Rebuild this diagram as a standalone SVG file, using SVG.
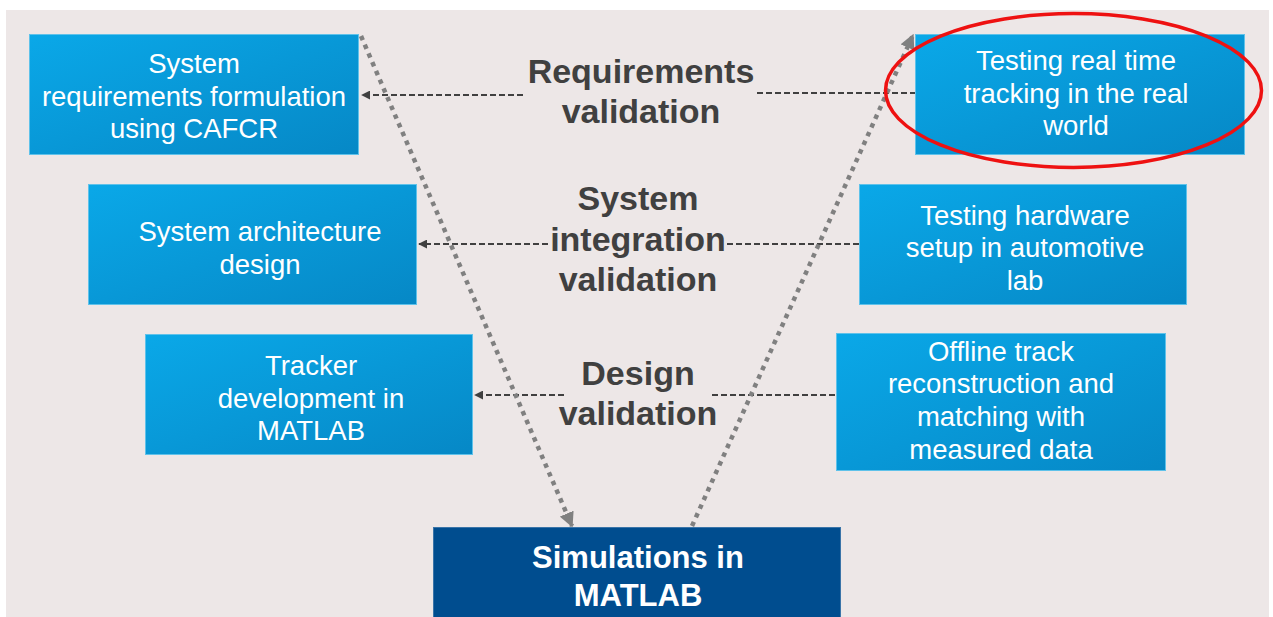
<svg xmlns="http://www.w3.org/2000/svg" width="1273" height="617" viewBox="0 0 1273 617">
<defs>
<linearGradient id="boxg" x1="0" y1="0" x2="1" y2="1">
<stop offset="0" stop-color="#0aa8e8"/>
<stop offset="1" stop-color="#0688c6"/>
</linearGradient>
<marker id="ah" viewBox="0 0 10 10" refX="9" refY="5" markerWidth="9" markerHeight="9" markerUnits="userSpaceOnUse" orient="auto">
<path d="M0,0 L10,5 L0,10 z" fill="#404040"/>
</marker>
<marker id="dh" viewBox="0 0 10 10" refX="9" refY="5" markerWidth="15" markerHeight="15" markerUnits="userSpaceOnUse" orient="auto">
<path d="M0,0 L10,5 L0,10 z" fill="#808080"/>
</marker>
</defs>
<style>
.box{fill:url(#boxg);stroke:#5fc2ea;stroke-width:1}
.bt{font-family:"Liberation Sans",Arial,sans-serif;font-size:27.5px;fill:#ffffff;text-anchor:middle}
.lbl{font-family:"Liberation Sans",Arial,sans-serif;font-size:34px;font-weight:bold;fill:#404040;text-anchor:middle}
.dash{stroke:#404040;stroke-width:2.2;stroke-dasharray:6 3;fill:none}
.dot{stroke:#808080;stroke-width:4.5;stroke-dasharray:4.5 5;fill:none}
</style>
<rect x="0" y="0" width="1273" height="617" fill="#ffffff"/>
<rect x="6" y="10" width="1263" height="607" fill="#ede7e7"/>

<g id="connectors">
<line class="dash" x1="523" y1="95" x2="362" y2="95" marker-end="url(#ah)"/>
<line class="dash" x1="757" y1="93" x2="915" y2="93"/>
<line class="dash" x1="548" y1="244" x2="419" y2="244" marker-end="url(#ah)"/>
<line class="dash" x1="727" y1="244" x2="859" y2="244"/>
<line class="dash" x1="564" y1="395" x2="475" y2="395" marker-end="url(#ah)"/>
<line class="dash" x1="712" y1="395" x2="836" y2="395"/>
<line class="dot" x1="361" y1="36" x2="572" y2="526" marker-end="url(#dh)"/>
<line class="dot" x1="692" y1="526" x2="913" y2="35" marker-end="url(#dh)"/>
</g>

<g id="n1">
<rect class="box" x="29.5" y="34.5" width="329" height="120"/>
<text class="bt" x="194" y="73">System</text>
<text class="bt" x="194" y="106">requirements formulation</text>
<text class="bt" x="194" y="138">using CAFCR</text>
</g>
<g id="n2">
<rect class="box" x="88.5" y="184.5" width="328" height="120"/>
<text class="bt" x="260" y="241">System architecture</text>
<text class="bt" x="260" y="274">design</text>
</g>
<g id="n3">
<rect class="box" x="145.5" y="334.5" width="327" height="120"/>
<text class="bt" x="311" y="375">Tracker</text>
<text class="bt" x="311" y="408">development in</text>
<text class="bt" x="311" y="440">MATLAB</text>
</g>
<g id="n4">
<rect class="box" x="915.5" y="34.5" width="329" height="120"/>
<text class="bt" x="1076" y="70">Testing real time</text>
<text class="bt" x="1076" y="103">tracking in the real</text>
<text class="bt" x="1076" y="135">world</text>
</g>
<g id="n5">
<rect class="box" x="859.5" y="184.5" width="327" height="120"/>
<text class="bt" x="1025" y="225">Testing hardware</text>
<text class="bt" x="1025" y="257">setup in automotive</text>
<text class="bt" x="1025" y="290">lab</text>
</g>
<g id="n6">
<rect class="box" x="836.5" y="333.5" width="329" height="137"/>
<text class="bt" x="1001" y="361">Offline track</text>
<text class="bt" x="1001" y="393">reconstruction and</text>
<text class="bt" x="1001" y="426">matching with</text>
<text class="bt" x="1001" y="459">measured data</text>
</g>
<g id="n7">
<rect x="433.5" y="527.5" width="407" height="95" fill="#004d8f" stroke="#3a74a8" stroke-width="1"/>
<text class="lbl" x="638" y="568" style="fill:#ffffff;font-size:31px">Simulations in</text>
<text class="lbl" x="638" y="606" style="fill:#ffffff;font-size:31px">MATLAB</text>
</g>

<g id="labels">
<text class="lbl" x="641" y="83">Requirements</text>
<text class="lbl" x="641" y="123">validation</text>
<text class="lbl" x="638" y="210">System</text>
<text class="lbl" x="638" y="251">integration</text>
<text class="lbl" x="638" y="291">validation</text>
<text class="lbl" x="638" y="385">Design</text>
<text class="lbl" x="638" y="425">validation</text>
</g>

<g id="highlight">
<ellipse cx="1073.5" cy="90.5" rx="188" ry="77" fill="none" stroke="#ee1111" stroke-width="3.5"/>
</g>
</svg>
